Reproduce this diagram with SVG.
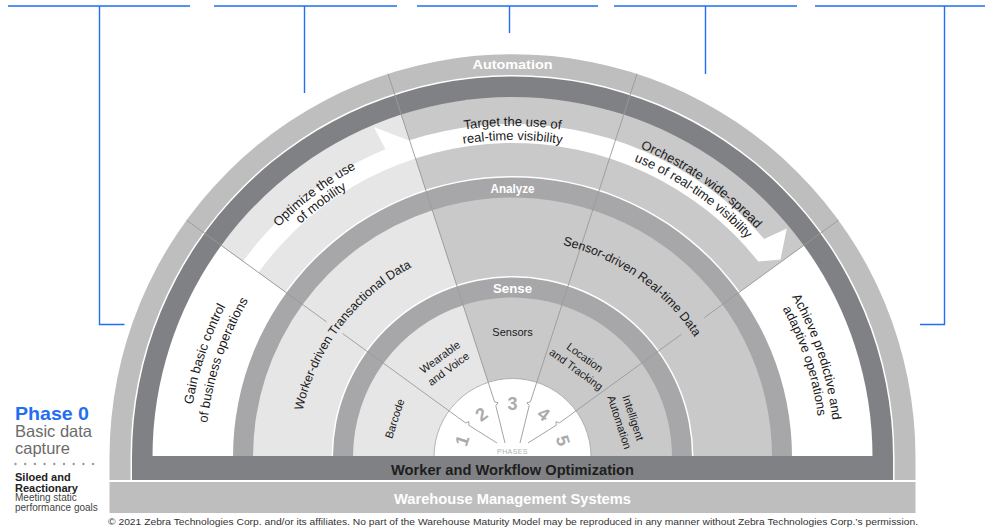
<svg xmlns="http://www.w3.org/2000/svg" width="985" height="529" viewBox="0 0 985 529">
<style>
.t{font-family:"Liberation Sans",Arial,sans-serif;fill:#1a1a1a}
.c13{font-size:13px}
.c12{font-size:12.5px}
.c11{font-size:11px}
.lbl{font-family:"Liberation Sans",Arial,sans-serif;font-weight:bold;fill:#ffffff;text-anchor:middle}
.div{stroke:#9a9a9a;stroke-width:0.9;fill:none}
.blue{stroke:#1f6ef3;stroke-width:1.4;fill:none}
.num{font-family:"Liberation Sans",Arial,sans-serif;font-weight:bold;font-size:18px;fill:#ababab;text-anchor:middle}
.lt{fill:#e6e6e7}
.md{fill:#c9c9ca}
.bd{fill:#a7a7a9}
</style>
<defs>
<path id="pGain1" d="M201.84,549.02 A324,324 0 0 1 319.78,196.55"/>
<path id="pGain2" d="M218.14,544.19 A307,307 0 0 1 329.89,210.21"/>
<path id="pOpt1" d="M200.55,355.64 A328,328 0 0 1 501.05,129.2"/>
<path id="pOpt2" d="M212.92,359.66 A315,315 0 0 1 501.51,142.19"/>
<path id="pTar1" d="M322.65,185.86 A331,331 0 0 1 702.35,185.86"/>
<path id="pTar2" d="M330.68,197.33 A317,317 0 0 1 694.32,197.33"/>
<path id="pOrc1" d="M510.75,123 A334,334 0 0 1 825.76,341.12"/>
<path id="pOrc2" d="M510.83,137 A320,320 0 0 1 812.62,345.98"/>
<path id="pAch1" d="M705.38,199.16 A322,322 0 0 1 820.76,550.07"/>
<path id="pAch2" d="M697,210.38 A308,308 0 0 1 807.35,546.02"/>
<path id="pWork" d="M297.75,467.32 A215,215 0 0 1 465.05,247.3"/>
<path id="pSens" d="M493.5,239.83 A218,218 0 0 1 723.07,400.58"/>
</defs>
<rect width="985" height="529" fill="#ffffff"/>

<g id="callouts">
<path class="blue" d="M8,6H190M214,6H397M417,6H598M614,6H797M815,6H985"/>
<path class="blue" d="M99.5,6V324.5H124.5"/>
<path class="blue" d="M304.5,6V93"/>
<path class="blue" d="M509.5,6V33"/>
<path class="blue" d="M705.5,6V74"/>
<path class="blue" d="M944.5,6V324.5H920"/>
</g>

<g id="automation-ring">
<path d="M109.5,480 L109.5,457 A403,403 0 0 1 915.5,457 L915.5,480 Z" fill="#bebebe"/>
<path d="M130.5,480 L130.5,457 A382,382 0 0 1 894.5,457 L894.5,480 Z" fill="#ffffff"/>
<path d="M132,480 L132,457 A380.5,380.5 0 0 1 893,457 L893,480 Z" fill="#808184"/>
</g>

<g id="strategy-ring">
<path d="M512.5,457 L152.5,457 A360,360 0 0 1 221.25,245.4 Z" fill="#ffffff"/>
<path class="lt" d="M512.5,457 L221.25,245.4 A360,360 0 0 1 401.25,114.62 Z"/>
<path class="md" d="M512.5,457 L401.25,114.62 A360,360 0 0 1 803.75,245.4 Z"/>
<path d="M512.5,457 L803.75,245.4 A360,360 0 0 1 872.5,457 Z" fill="#ffffff"/>
<path d="M258.47,272.43 L243.1,261.27 A333,333 0 0 1 764.2,238.97 L786.78,228.48 L780.53,259.39 L758.24,261.53 A314,314 0 0 0 258.47,272.43 Z" fill="#ffffff"/>
<polygon points="385.6,149.6 373.77,126.97 409.04,140.48" fill="#ffffff"/>
</g>

<g id="analyze-ring">
<path d="M231.5,457 A281,281 0 0 1 793.5,457 Z" fill="#ffffff"/>
<path class="bd" d="M233,457 A279.5,279.5 0 0 1 792,457 Z"/>
<path class="lt" d="M512.5,457 L253,457 A259.5,259.5 0 0 1 432.31,210.2 Z"/>
<path class="md" d="M512.5,457 L432.31,210.2 A259.5,259.5 0 0 1 772,457 Z"/>
</g>

<g id="sense-ring">
<path d="M331.5,457 A181,181 0 0 1 693.5,457 Z" fill="#ffffff"/>
<path class="bd" d="M333,457 A179.5,179.5 0 0 1 692,457 Z"/>
<path class="lt" d="M512.5,457 L353,457 A159.5,159.5 0 0 1 463.21,305.31 Z"/>
<path class="md" d="M512.5,457 L463.21,305.31 A159.5,159.5 0 0 1 672,457 Z"/>
</g>

<g id="phases-core">
<path d="M434,457 A78.5,78.5 0 0 1 591,457 Z" fill="#ffffff"/>
<path d="M434,457 A78.5,78.5 0 0 1 591,457" fill="none" stroke="#a5a5a5" stroke-width="0.8"/>
</g>

<g id="connectors">
<path class="div" d="M186.47,220.12 L326.43,321.81 M342.61,333.56 L448.99,410.86 L465.58,422.91 L468.95,421.65 L468.81,425.26 L497,443"/>
<path class="div" d="M387.97,73.72 L488.24,382.34 L494.58,401.84 L498.04,402.81 L495.81,405.64 L505,443"/>
<path class="div" d="M637.03,73.72 L536.76,382.34 L530.42,401.84 L526.96,402.81 L529.19,405.64 L520,443"/>
<path class="div" d="M838.53,220.12 L704.24,317.69 M681.59,334.15 L576.01,410.86 L559.42,422.91 L556.05,421.65 L556.19,425.26 L528,443"/>
</g>

<g id="bars">
<rect x="132" y="456" width="761" height="24" fill="#808184"/>
<text x="512.5" y="475" text-anchor="middle" font-family="Liberation Sans, Arial, sans-serif" font-weight="bold" font-size="14.5" fill="#1e1e1e" textLength="243" lengthAdjust="spacingAndGlyphs">Worker and Workflow Optimization</text>
<rect x="109.5" y="482" width="806" height="31" fill="#bebebe"/>
<text x="512.5" y="503.5" class="lbl" font-size="15" textLength="237" lengthAdjust="spacingAndGlyphs">Warehouse Management Systems</text>
</g>

<g id="band-labels">
<text x="512.5" y="69" class="lbl" font-size="13.5" textLength="80" lengthAdjust="spacingAndGlyphs">Automation</text>
<text x="512.5" y="192.5" class="lbl" font-size="13.5" textLength="44" lengthAdjust="spacingAndGlyphs">Analyze</text>
<text x="512.5" y="292.5" class="lbl" font-size="13.5" textLength="39" lengthAdjust="spacingAndGlyphs">Sense</text>
</g>

<g id="phase1-goal">
<text class="t c13"><textPath href="#pGain1" startOffset="50%" text-anchor="middle">Gain basic control</textPath></text>
<text class="t c13"><textPath href="#pGain2" startOffset="50%" text-anchor="middle">of business operations</textPath></text>
</g>
<g id="phase2-goal">
<text class="t c13"><textPath href="#pOpt1" startOffset="50%" text-anchor="middle">Optimize the use</textPath></text>
<text class="t c13"><textPath href="#pOpt2" startOffset="50%" text-anchor="middle">of mobility</textPath></text>
</g>
<g id="phase3-goal">
<text class="t c13"><textPath href="#pTar1" startOffset="50%" text-anchor="middle">Target the use of</textPath></text>
<text class="t c13"><textPath href="#pTar2" startOffset="50%" text-anchor="middle">real-time visibility</textPath></text>
</g>
<g id="phase4-goal">
<text class="t c13"><textPath href="#pOrc1" startOffset="50%" text-anchor="middle">Orchestrate wide-spread</textPath></text>
<text class="t c13"><textPath href="#pOrc2" startOffset="50%" text-anchor="middle">use of real-time visibility</textPath></text>
</g>
<g id="phase5-goal">
<text class="t c13"><textPath href="#pAch1" startOffset="50%" text-anchor="middle">Achieve predictive and</textPath></text>
<text class="t c13"><textPath href="#pAch2" startOffset="50%" text-anchor="middle">adaptive operations</textPath></text>
</g>

<g id="analyze-worker">
<text class="t c12"><textPath href="#pWork" startOffset="50%" text-anchor="middle">Worker-driven Transactional Data</textPath></text>
</g>
<g id="analyze-sensor">
<text class="t c12"><textPath href="#pSens" startOffset="50%" text-anchor="middle">Sensor-driven Real-time Data</textPath></text>
</g>

<g id="sense-barcode">
<text class="t c11" x="394.57" y="418.68" dy="0.35em" text-anchor="middle" transform="rotate(-72 394.57 418.68)">Barcode</text>
</g>
<g id="sense-wearable">
<text class="t c11" x="439.91" y="357.09" dy="0.35em" text-anchor="middle" transform="rotate(-36 439.91 357.09)">Wearable</text>
<text class="t c11" x="448.43" y="368.82" dy="0.35em" text-anchor="middle" transform="rotate(-36 448.43 368.82)">and Voice</text>
</g>
<g id="sense-sensors">
<text class="t c11" x="512.5" y="332" dy="0.35em" text-anchor="middle">Sensors</text>
</g>
<g id="sense-location">
<text class="t c11" x="584.8" y="357.49" dy="0.35em" text-anchor="middle" transform="rotate(36 584.8 357.49)">Location</text>
<text class="t c11" x="576.28" y="369.22" dy="0.35em" text-anchor="middle" transform="rotate(36 576.28 369.22)">and Tracking</text>
</g>
<g id="sense-intelligent">
<text class="t c11" x="633.28" y="417.75" dy="0.35em" text-anchor="middle" transform="rotate(72 633.28 417.75)">Intelligent</text>
<text class="t c11" x="619.5" y="422.24" dy="0.35em" text-anchor="middle" transform="rotate(72 619.5 422.24)">Automation</text>
</g>

<g id="phase-numbers">
<text class="num" x="462.09" y="440.62" dy="0.35em" transform="rotate(-72 462.09 440.62)">1</text>
<text class="num" x="481.35" y="414.12" dy="0.35em" transform="rotate(-36 481.35 414.12)">2</text>
<text class="num" x="512.5" y="404" dy="0.35em">3</text>
<text class="num" x="543.65" y="414.12" dy="0.35em" transform="rotate(36 543.65 414.12)">4</text>
<text class="num" x="562.91" y="440.62" dy="0.35em" transform="rotate(72 562.91 440.62)">5</text>
<text x="512.5" y="453.5" text-anchor="middle" font-family="Liberation Sans, Arial, sans-serif" font-size="7" fill="#b0b0b0" letter-spacing="0.4">PHASES</text>
</g>

<g id="phase0">
<text x="15" y="419.5" font-family="Liberation Sans, Arial, sans-serif" font-weight="bold" font-size="19" fill="#1f6ef3" textLength="74" lengthAdjust="spacingAndGlyphs">Phase 0</text>
<text x="15" y="436.5" font-family="Liberation Sans, Arial, sans-serif" font-size="16.5" fill="#6b6b6b">Basic data</text>
<text x="15" y="454" font-family="Liberation Sans, Arial, sans-serif" font-size="16.5" fill="#6b6b6b">capture</text>
<g fill="#9a9a9a">
<circle cx="15.5" cy="464" r="1.2"/><circle cx="25.2" cy="464" r="1.2"/><circle cx="34.9" cy="464" r="1.2"/><circle cx="44.6" cy="464" r="1.2"/><circle cx="54.3" cy="464" r="1.2"/><circle cx="64" cy="464" r="1.2"/><circle cx="73.7" cy="464" r="1.2"/><circle cx="83.4" cy="464" r="1.2"/><circle cx="93.1" cy="464" r="1.2"/>
</g>
<text x="15" y="480.5" font-family="Liberation Sans, Arial, sans-serif" font-weight="bold" font-size="11" fill="#222222">Siloed and</text>
<text x="15" y="491.5" font-family="Liberation Sans, Arial, sans-serif" font-weight="bold" font-size="11" fill="#222222">Reactionary</text>
<text x="15" y="501" font-family="Liberation Sans, Arial, sans-serif" font-size="10" fill="#444444">Meeting static</text>
<text x="15" y="511" font-family="Liberation Sans, Arial, sans-serif" font-size="10" fill="#444444">performance goals</text>
</g>

<text x="108" y="524.5" font-family="Liberation Sans, Arial, sans-serif" font-size="9.5" fill="#333333" textLength="810" lengthAdjust="spacingAndGlyphs">© 2021 Zebra Technologies Corp. and/or its affiliates. No part of the Warehouse Maturity Model may be reproduced in any manner without Zebra Technologies Corp.’s permission.</text>
</svg>
